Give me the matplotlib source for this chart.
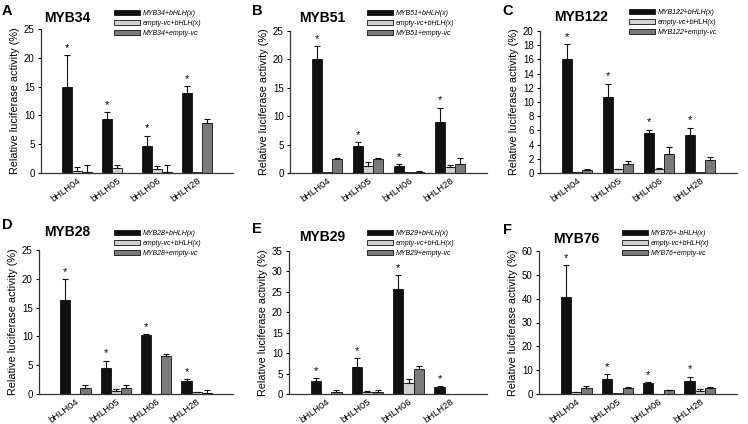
import numpy as np
import matplotlib
matplotlib.use("Agg")
import matplotlib.pyplot as plt

plt.rcParams["font.family"] = ["Liberation Sans", "DejaVu Sans"]

genes = ["bHLH04", "bHLH05", "bHLH06", "bHLH28"]

# means for the three constructs: [MYB+bHLH, empty-vc+bHLH, MYB+empty-vc]
myb34 = [[15.0, 9.3, 4.7, 13.9], [0.4, 0.9, 0.7, 0.2], [0.2, 0.0, 0.2, 8.6]]
myb34_sd = [[5.4, 1.3, 1.8, 1.2], [0.6, 0.5, 0.5, 0.0], [1.2, 0.0, 1.2, 0.8]]

myb51 = [[20.0, 4.8, 1.2, 9.0], [0.1, 1.2, 0.1, 1.0], [2.4, 2.4, 0.2, 1.5]]
myb51_sd = [[2.3, 0.6, 0.4, 2.5], [0.0, 0.7, 0.0, 0.4], [0.3, 0.3, 0.1, 1.1]]

myb122 = [[16.0, 10.7, 5.7, 5.4], [0.2, 0.5, 0.6, 0.1], [0.4, 1.2, 2.7, 1.8]]
myb122_sd = [[2.1, 1.9, 0.4, 1.0], [0.0, 0.1, 0.1, 0.0], [0.1, 0.5, 1.0, 0.4]]

myb28 = [[16.4, 4.5, 10.2, 2.3], [0.0, 0.6, 0.0, 0.3], [1.1, 1.1, 6.6, 0.1]]
myb28_sd = [[3.5, 1.3, 0.2, 0.3], [0.0, 0.3, 0.0, 0.1], [0.5, 0.5, 0.4, 0.6]]

myb29 = [[3.1, 6.6, 25.6, 1.8], [0.0, 0.6, 2.8, 0.1], [0.6, 0.6, 6.2, 0.0]]
myb29_sd = [[0.7, 2.2, 3.5, 0.1], [0.0, 0.2, 0.8, 0.0], [0.4, 0.4, 0.6, 0.0]]

myb76 = [[40.5, 6.3, 4.6, 5.6], [0.7, 0.3, 0.2, 1.4], [2.4, 2.4, 1.5, 2.4]]
myb76_sd = [[13.5, 1.9, 0.4, 1.7], [0.3, 0.0, 0.0, 0.8], [0.8, 0.6, 0.2, 0.6]]

panels = [
    ("A", "MYB34", myb34, myb34_sd, 25, 5, "MYB34+bHLH(x)", "MYB34+empty-vc"),
    ("B", "MYB51", myb51, myb51_sd, 25, 5, "MYB51+bHLH(x)", "MYB51+empty-vc"),
    ("C", "MYB122", myb122, myb122_sd, 20, 2, "MYB122+bHLH(x)", "MYB122+empty-vc"),
    ("D", "MYB28", myb28, myb28_sd, 25, 5, "MYB28+bHLH(x)", "MYB28+empty-vc"),
    ("E", "MYB29", myb29, myb29_sd, 35, 5, "MYB29+bHLH(x)", "MYB29+empty-vc"),
    ("F", "MYB76", myb76, myb76_sd, 60, 10, "MYB76+-bHLH(x)", "MYB76+empty-vc"),
]

# pixel layout: axes (left, right, top, bottom), letter, title, legend anchor
axes_px = [(41, 233, 29, 173), (290, 487, 31, 173), (540, 737, 31, 173),
           (39, 233, 250, 394), (289, 487, 251, 394), (539, 737, 251, 394)]
letter_px = [(2, 4), (252, 4), (502, 4), (2, 218), (252, 222), (503, 223)]
title_px = [(67, 18), (322, 18), (581, 17), (67, 232), (322, 237), (576, 239)]
legend_px = [(114, 10), (367, 10), (629, 9), (114, 230), (367, 230), (622, 230)]

W, H = 748, 424
colors = ["#111111", "#d0d0d0", "#7a7a7a"]

fig = plt.figure(figsize=(W / 100, H / 100), dpi=100)

for i, (let, title, vals, sds, ymax, step, lab1, lab3) in enumerate(panels):
    l, r, t, b = axes_px[i]
    ax = fig.add_axes([l / W, 1 - b / H, (r - l) / W, (b - t) / H])
    x = np.arange(len(genes))
    w = 0.25
    labels = [lab1, "empty-vc+bHLH(x)", lab3]
    handles = []
    for k in range(3):
        pos = x + (k - 1) * w
        bars = ax.bar(pos, vals[k], w, color=colors[k], edgecolor="#111111",
                      linewidth=0.6, label=labels[k])
        handles.append(bars)
        sd = np.array(sds[k])
        keep = sd > 0
        ax.errorbar(pos[keep], np.array(vals[k])[keep],
                    yerr=[np.zeros(keep.sum()), sd[keep]], fmt="none",
                    ecolor="#111111", elinewidth=0.8, capsize=2.2, capthick=0.8)
    # significance stars over the MYB+bHLH bars
    for j in range(len(genes)):
        top = vals[0][j] + sds[0][j]
        ax.text(x[j] - w, top + ymax * 0.015, "*", ha="center", va="bottom",
                fontsize=8)
    ax.set_xlim(-0.9, 3.9)
    ax.set_ylim(0, ymax)
    ax.set_yticks(np.arange(0, ymax + 0.1, step))
    ax.set_xticks(x)
    ax.set_xticklabels(genes, rotation=36, ha="right", rotation_mode="anchor",
                       fontsize=6.8)
    ax.tick_params(axis="x", length=0, pad=2)
    ax.tick_params(axis="y", labelsize=7, length=2.5, width=0.8, pad=2)
    for s in ["top", "right"]:
        ax.spines[s].set_visible(False)
    for s in ["left", "bottom"]:
        ax.spines[s].set_linewidth(0.9)
        ax.spines[s].set_color("#333333")
    ax.set_ylabel("Relative luciferase activity (%)", fontsize=7.8, labelpad=3)

    lx, ly = legend_px[i]
    ax.legend(handles, labels, loc="upper left",
              bbox_to_anchor=(lx / W, 1 - ly / H), bbox_transform=fig.transFigure,
              prop={"style": "italic", "size": 5}, frameon=False,
              handlelength=3.7, handleheight=0.7, labelspacing=0.45,
              handletextpad=0.4, borderaxespad=0, borderpad=0)

    fig.text(letter_px[i][0] / W, 1 - letter_px[i][1] / H, let,
             fontsize=10.5, fontweight="bold", va="top", ha="left")
    fig.text(title_px[i][0] / W, 1 - title_px[i][1] / H, title,
             fontsize=10, fontweight="bold", va="center", ha="center")

fig.savefig("out.png", dpi=100)
